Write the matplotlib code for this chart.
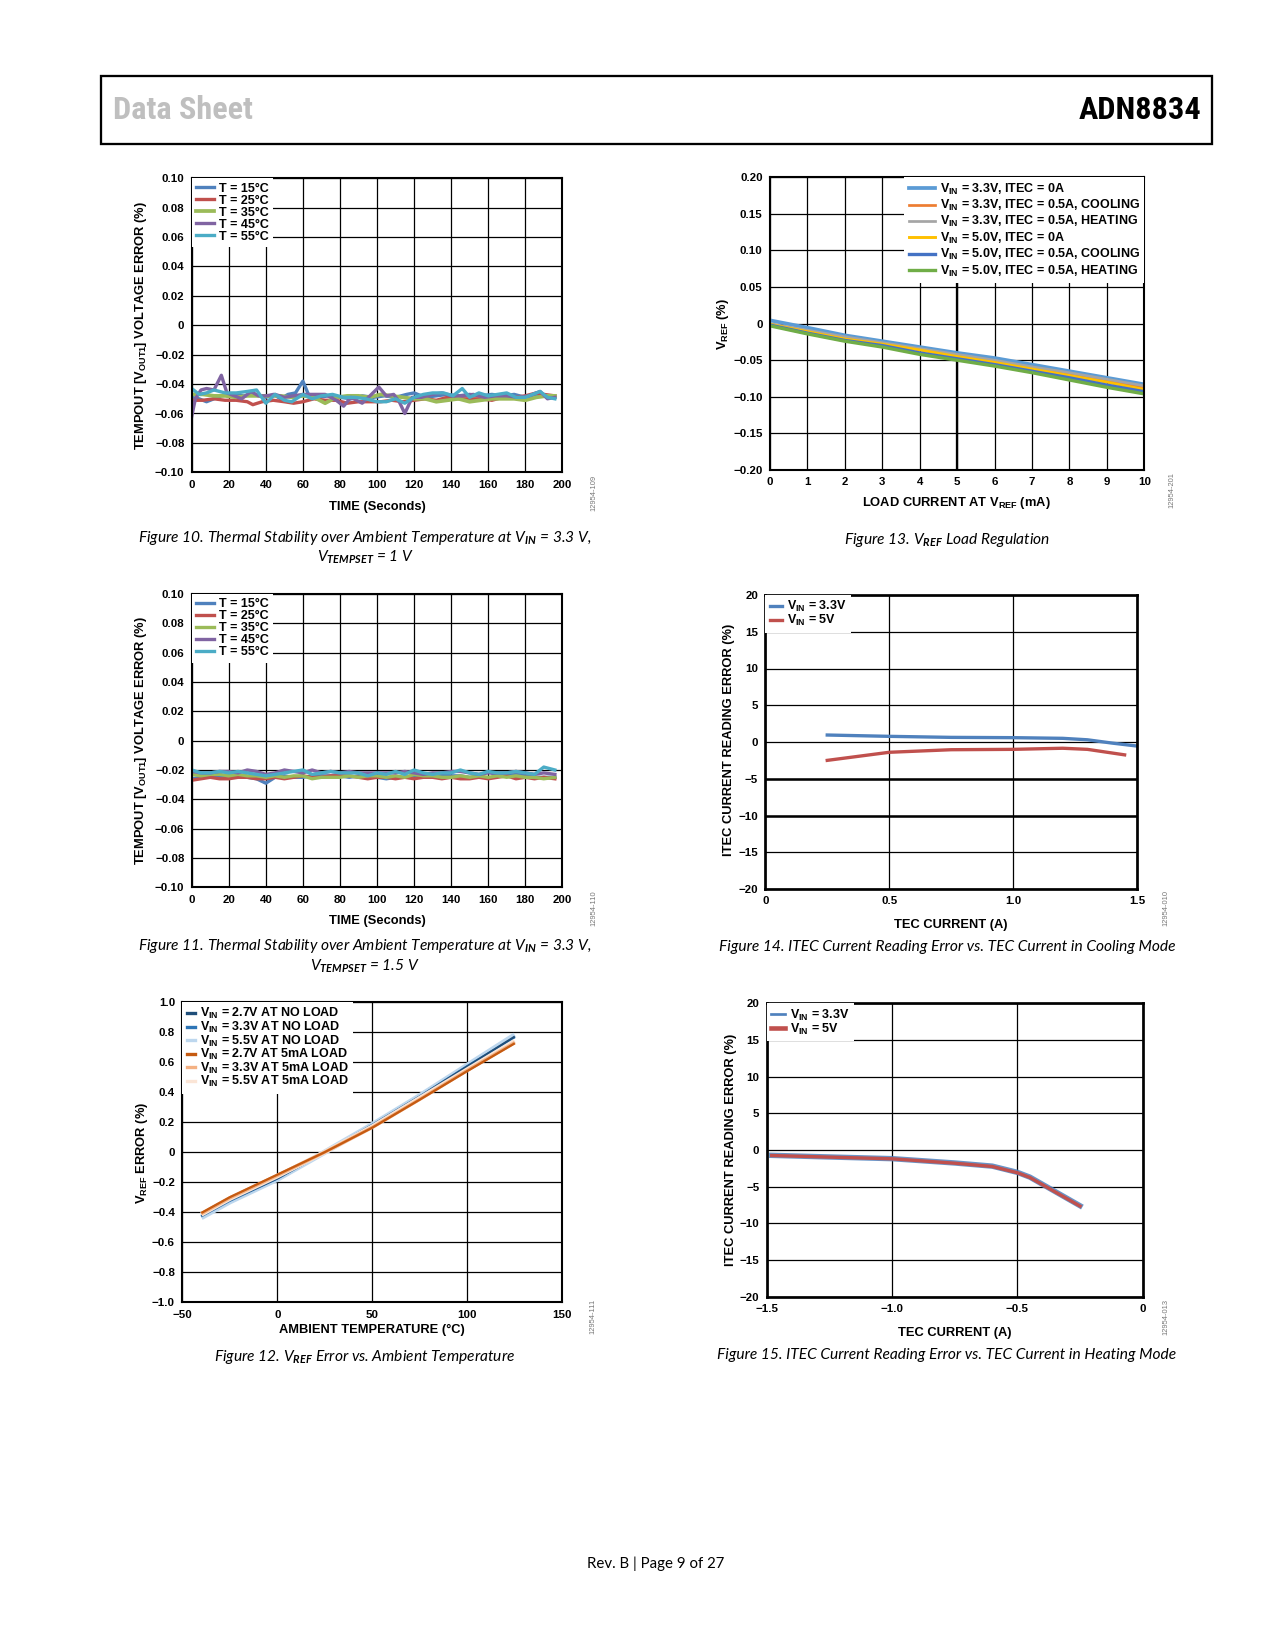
import matplotlib
matplotlib.use("Agg")
import matplotlib.pyplot as plt
from matplotlib.patches import Rectangle
from matplotlib.ticker import FixedLocator, FixedFormatter

plt.rcParams['font.family'] = ['Liberation Sans', 'DejaVu Sans']
plt.rcParams['font.weight'] = 'bold'
plt.rcParams['mathtext.fontset'] = 'custom'
plt.rcParams['mathtext.rm'] = 'Liberation Sans:bold'
plt.rcParams['mathtext.it'] = 'Lato:italic'
plt.rcParams['mathtext.default'] = 'rm'
plt.rcParams['axes.unicode_minus'] = True

# ---------------- DATA ----------------
# Figure 10 (V_TEMPSET = 1 V)
temp_labels = ["T = 15°C", "T = 25°C", "T = 35°C", "T = 45°C", "T = 55°C"]
f10_t15 = [0, 4, 8, 12, 16, 22, 28, 34, 40, 44, 48, 52, 56, 60, 63, 68, 74, 80, 86, 92, 98, 104, 110, 116, 120, 126, 132, 138, 144, 150, 156, 162, 168, 174, 180, 186, 192, 196]
f10_v15 = [-0.049, -0.050, -0.052, -0.050, -0.048, -0.047, -0.048, -0.047, -0.049, -0.047, -0.050, -0.047, -0.046, -0.038, -0.047, -0.049, -0.048, -0.049, -0.050, -0.048, -0.049, -0.048, -0.049, -0.047, -0.046, -0.049, -0.048, -0.047, -0.048, -0.047, -0.048, -0.047, -0.048, -0.047, -0.049, -0.047, -0.048, -0.049]
f10_t25 = [0, 6, 12, 18, 24, 30, 33, 38, 44, 50, 55, 60, 66, 72, 78, 84, 90, 96, 102, 108, 114, 120, 126, 132, 138, 144, 150, 156, 162, 168, 174, 180, 186, 190, 196]
f10_v25 = [-0.051, -0.051, -0.050, -0.051, -0.051, -0.052, -0.054, -0.052, -0.051, -0.052, -0.053, -0.052, -0.050, -0.051, -0.051, -0.053, -0.052, -0.052, -0.052, -0.051, -0.052, -0.051, -0.050, -0.051, -0.049, -0.050, -0.050, -0.050, -0.051, -0.049, -0.049, -0.048, -0.046, -0.047, -0.048]
f10_t35 = [0, 6, 12, 18, 24, 30, 36, 42, 48, 54, 60, 66, 72, 78, 84, 90, 96, 102, 108, 114, 120, 126, 132, 138, 144, 150, 156, 162, 168, 174, 180, 186, 192, 196]
f10_v35 = [-0.047, -0.047, -0.048, -0.048, -0.049, -0.048, -0.048, -0.048, -0.048, -0.049, -0.048, -0.049, -0.053, -0.049, -0.048, -0.048, -0.049, -0.047, -0.048, -0.049, -0.050, -0.050, -0.052, -0.051, -0.050, -0.052, -0.051, -0.050, -0.050, -0.050, -0.051, -0.049, -0.048, -0.048]
f10_t45 = [0, 2, 5, 8, 12, 16, 19, 23, 27, 32, 36, 40, 45, 50, 55, 60, 66, 72, 78, 82, 86, 92, 97, 101, 105, 109, 112, 115, 119, 124, 130, 135, 140, 146, 152, 158, 164, 170, 176, 182, 188, 192, 196]
f10_v45 = [-0.062, -0.050, -0.044, -0.043, -0.044, -0.034, -0.046, -0.048, -0.050, -0.045, -0.048, -0.048, -0.047, -0.049, -0.048, -0.047, -0.047, -0.047, -0.051, -0.055, -0.049, -0.053, -0.047, -0.042, -0.048, -0.047, -0.052, -0.060, -0.049, -0.049, -0.047, -0.046, -0.048, -0.048, -0.047, -0.049, -0.048, -0.048, -0.049, -0.048, -0.045, -0.050, -0.049]
f10_t55 = [0, 4, 8, 12, 18, 24, 30, 35, 40, 45, 50, 54, 60, 65, 70, 76, 82, 88, 94, 100, 105, 110, 115, 120, 125, 130, 136, 141, 146, 150, 155, 160, 165, 170, 175, 180, 184, 188, 192, 196]
f10_v55 = [-0.043, -0.047, -0.046, -0.044, -0.046, -0.046, -0.045, -0.044, -0.053, -0.047, -0.051, -0.052, -0.047, -0.050, -0.048, -0.047, -0.049, -0.049, -0.050, -0.052, -0.052, -0.050, -0.053, -0.049, -0.047, -0.046, -0.046, -0.048, -0.043, -0.049, -0.046, -0.048, -0.047, -0.046, -0.049, -0.049, -0.047, -0.045, -0.049, -0.050]

# Figure 11 (V_TEMPSET = 1.5 V)
f11_t = [0, 5, 10, 15, 20, 25, 30, 35, 40, 45, 50, 55, 60, 65, 70, 75, 80, 85, 90, 95, 100, 105, 110, 115, 120, 125, 130, 135, 140, 145, 150, 155, 160, 165, 170, 175, 180, 185, 190, 196]
f11_v15 = [-0.026, -0.025, -0.025, -0.025, -0.024, -0.024, -0.025, -0.026, -0.029, -0.025, -0.024, -0.025, -0.025, -0.024, -0.024, -0.024, -0.024, -0.025, -0.024, -0.023, -0.025, -0.026, -0.025, -0.025, -0.024, -0.024, -0.024, -0.023, -0.024, -0.024, -0.025, -0.024, -0.021, -0.024, -0.024, -0.023, -0.024, -0.025, -0.025, -0.025]
f11_v25 = [-0.027, -0.026, -0.025, -0.026, -0.026, -0.025, -0.025, -0.026, -0.026, -0.025, -0.026, -0.025, -0.024, -0.025, -0.025, -0.024, -0.024, -0.024, -0.025, -0.026, -0.025, -0.025, -0.026, -0.025, -0.026, -0.025, -0.025, -0.026, -0.025, -0.026, -0.026, -0.025, -0.026, -0.025, -0.024, -0.026, -0.025, -0.026, -0.025, -0.026]
f11_v35 = [-0.023, -0.024, -0.023, -0.023, -0.024, -0.023, -0.024, -0.024, -0.025, -0.024, -0.025, -0.024, -0.024, -0.026, -0.025, -0.025, -0.025, -0.024, -0.025, -0.024, -0.024, -0.025, -0.024, -0.025, -0.023, -0.024, -0.024, -0.025, -0.025, -0.024, -0.025, -0.024, -0.025, -0.024, -0.025, -0.024, -0.025, -0.025, -0.026, -0.025]
f11_v45 = [-0.021, -0.022, -0.022, -0.021, -0.021, -0.022, -0.020, -0.021, -0.023, -0.022, -0.020, -0.021, -0.022, -0.020, -0.022, -0.021, -0.022, -0.021, -0.022, -0.022, -0.022, -0.022, -0.022, -0.021, -0.022, -0.023, -0.022, -0.022, -0.021, -0.021, -0.022, -0.023, -0.022, -0.022, -0.022, -0.021, -0.022, -0.023, -0.022, -0.023]
f11_v55 = [-0.020, -0.022, -0.022, -0.021, -0.022, -0.021, -0.022, -0.023, -0.024, -0.023, -0.022, -0.021, -0.020, -0.023, -0.022, -0.021, -0.022, -0.022, -0.022, -0.024, -0.022, -0.023, -0.021, -0.023, -0.020, -0.022, -0.023, -0.022, -0.022, -0.020, -0.022, -0.023, -0.021, -0.022, -0.022, -0.021, -0.022, -0.023, -0.018, -0.020]

# Figure 12 (VREF error vs ambient temperature)
f12_temp = [-40, -25, 0, 25, 50, 75, 100, 125]
f12_labels = [r"V$_{\mathrm{IN}}$ = 2.7V AT NO LOAD", r"V$_{\mathrm{IN}}$ = 3.3V AT NO LOAD",
              r"V$_{\mathrm{IN}}$ = 5.5V AT NO LOAD", r"V$_{\mathrm{IN}}$ = 2.7V AT 5mA LOAD",
              r"V$_{\mathrm{IN}}$ = 3.3V AT 5mA LOAD", r"V$_{\mathrm{IN}}$ = 5.5V AT 5mA LOAD"]
f12_nl27 = [-0.424, -0.32, -0.175, 0.0, 0.180, 0.370, 0.571, 0.770]
f12_nl33 = [-0.428, -0.325, -0.177, 0.0, 0.182, 0.372, 0.574, 0.765]
f12_nl55 = [-0.435, -0.33, -0.180, 0.0, 0.183, 0.375, 0.578, 0.780]
f12_ld27 = [-0.405, -0.30, -0.150, 0.0, 0.163, 0.350, 0.540, 0.725]
f12_ld33 = [-0.410, -0.305, -0.155, 0.0, 0.165, 0.352, 0.545, 0.730]
f12_ld55 = [-0.415, -0.31, -0.160, 0.0, 0.170, 0.360, 0.550, 0.740]

# Figure 13 (VREF load regulation)
f13_load = [0, 1, 2, 3, 4, 5, 6, 7, 8, 9, 10]
f13_labels = [r"V$_{\mathrm{IN}}$ = 3.3V, ITEC = 0A", r"V$_{\mathrm{IN}}$ = 3.3V, ITEC = 0.5A, COOLING",
              r"V$_{\mathrm{IN}}$ = 3.3V, ITEC = 0.5A, HEATING", r"V$_{\mathrm{IN}}$ = 5.0V, ITEC = 0A",
              r"V$_{\mathrm{IN}}$ = 5.0V, ITEC = 0.5A, COOLING", r"V$_{\mathrm{IN}}$ = 5.0V, ITEC = 0.5A, HEATING"]
f13_33_0 = [0.0045, -0.0055, -0.016, -0.024, -0.032, -0.040, -0.047, -0.056, -0.065, -0.074, -0.083]
f13_33_c = [-0.001, -0.010, -0.019, -0.027, -0.035, -0.043, -0.051, -0.060, -0.069, -0.078, -0.087]
f13_33_h = [0.000, -0.009, -0.018, -0.026, -0.034, -0.042, -0.050, -0.059, -0.067, -0.076, -0.085]
f13_50_0 = [-0.001, -0.011, -0.021, -0.028, -0.036, -0.045, -0.053, -0.062, -0.071, -0.080, -0.090]
f13_50_c = [-0.002, -0.013, -0.023, -0.030, -0.040, -0.048, -0.056, -0.065, -0.074, -0.084, -0.093]
f13_50_h = [-0.003, -0.014, -0.024, -0.032, -0.042, -0.050, -0.058, -0.067, -0.077, -0.087, -0.096]

# Figure 14 (cooling mode)
vin_labels = [r"V$_{\mathrm{IN}}$ = 3.3V", r"V$_{\mathrm{IN}}$ = 5V"]
f14_i33 = [0.25, 0.5, 0.75, 1.0, 1.2, 1.3, 1.4, 1.5]
f14_e33 = [0.95, 0.77, 0.63, 0.59, 0.50, 0.30, -0.15, -0.55]
f14_i5 = [0.25, 0.5, 0.75, 1.0, 1.2, 1.3, 1.45]
f14_e5 = [-2.5, -1.4, -1.05, -1.0, -0.85, -1.0, -1.75]

# Figure 15 (heating mode)
f15_i = [-1.48, -1.25, -1.0, -0.75, -0.6, -0.5, -0.45, -0.25]
f15_e33 = [-0.73, -0.95, -1.18, -1.77, -2.2, -3.05, -3.7, -7.6]
f15_e5 = [-0.75, -0.97, -1.20, -1.80, -2.25, -3.10, -3.75, -7.65]

# Tick labels
time_ticks = [0, 20, 40, 60, 80, 100, 120, 140, 160, 180, 200]
temp_err_ticks = [0.10, 0.08, 0.06, 0.04, 0.02, 0, -0.02, -0.04, -0.06, -0.08, -0.10]
temp_err_labels = ["0.10", "0.08", "0.06", "0.04", "0.02", "0", "\u22120.02", "\u22120.04", "\u22120.06", "\u22120.08", "\u22120.10"]
f12_xticks = [-50, 0, 50, 100, 150]
f12_xlabels = ["\u221250", "0", "50", "100", "150"]
f12_yticks = [1.0, 0.8, 0.6, 0.4, 0.2, 0, -0.2, -0.4, -0.6, -0.8, -1.0]
f12_ylabels = ["1.0", "0.8", "0.6", "0.4", "0.2", "0", "\u22120.2", "\u22120.4", "\u22120.6", "\u22120.8", "\u22121.0"]
f13_yticks = [0.20, 0.15, 0.10, 0.05, 0, -0.05, -0.10, -0.15, -0.20]
f13_ylabels = ["0.20", "0.15", "0.10", "0.05", "0", "\u22120.05", "\u22120.10", "\u22120.15", "\u22120.20"]
itec_yticks = [20, 15, 10, 5, 0, -5, -10, -15, -20]
itec_ylabels = ["20", "15", "10", "5", "0", "\u22125", "\u221210", "\u221215", "\u221220"]
f14_xticks = [0, 0.5, 1.0, 1.5]
f14_xlabels = ["0", "0.5", "1.0", "1.5"]
f15_xticks = [-1.5, -1.0, -0.5, 0]
f15_xlabels = ["\u22121.5", "\u22121.0", "\u22120.5", "0"]

# ---------------- FIGURE ----------------
W, H = 1275, 1650
fig = plt.figure(figsize=(W / 150, H / 150), dpi=150)

CAP_FONT = ['Lato', 'DejaVu Sans']
TICK_FS = 5.5
LAB_FS = 6.2
LEG_FS = 6.0


def px_axes(l, t, r, b):
    return fig.add_axes([l / W, 1 - b / H, (r - l) / W, (b - t) / H])


def style(ax, xlim, ylim, xt, xl, yt, yl, xlab, ylab, xlab_pos, ylab_pos, spine_lw=1.0):
    ax.set_xlim(*xlim)
    ax.set_ylim(*ylim)
    ax.xaxis.set_major_locator(FixedLocator(xt))
    ax.xaxis.set_major_formatter(FixedFormatter(xl))
    ax.yaxis.set_major_locator(FixedLocator(yt))
    ax.yaxis.set_major_formatter(FixedFormatter(yl))
    ax.tick_params(length=0, labelsize=TICK_FS, pad=3.5)
    ax.grid(True, color='black', lw=0.6)
    ax.set_axisbelow(True)
    for s in ax.spines.values():
        s.set_linewidth(spine_lw)
        s.set_color('black')
    ax.set_xlabel(xlab, fontsize=LAB_FS, fontweight='bold')
    ax.set_ylabel(ylab, fontsize=LAB_FS, fontweight='bold')
    ax.xaxis.set_label_coords(*xlab_pos)
    ax.yaxis.set_label_coords(*ylab_pos)


def legend(ax, handles, labels, loc, anchor, hl, fs=LEG_FS, ls=0.1, pad=0.35):
    lg = ax.legend(handles, labels, loc=loc, bbox_to_anchor=anchor, borderaxespad=0,
                   handlelength=hl, handletextpad=0.4, labelspacing=ls,
                   frameon=True, fancybox=False, framealpha=1, borderpad=pad,
                   prop={'weight': 'bold', 'size': fs})
    lg.get_frame().set_edgecolor('none')
    lg.get_frame().set_facecolor('white')
    lg.set_zorder(10)
    return lg


def code(x, y, s):
    fig.text(x / W, 1 - y / H, s, rotation=90, fontsize=3.6, color='#777777',
             fontweight='normal', ha='center', va='center')


def caption(x, y, s):
    fig.text(x / W, 1 - y / H, s, fontsize=7.45, family=CAP_FONT, style='italic',
             fontweight='normal', ha='center', va='center')


C07 = ['#4F81BD', '#C0504D', '#9BBB59', '#8064A2', '#4BACC6']

# ---- Figure 10 ----
ax = px_axes(191.7, 178.3, 562.3, 472.3)
hs = []
for t, v, c, lw in [(f10_t15, f10_v15, C07[0], 1.6), (f10_t25, f10_v25, C07[1], 1.6),
                    (f10_t35, f10_v35, C07[2], 1.8), (f10_t45, f10_v45, C07[3], 1.6),
                    (f10_t55, f10_v55, C07[4], 1.6)]:
    hs.append(ax.plot(t, v, color=c, lw=lw, solid_joinstyle='round')[0])
style(ax, (0, 200), (-0.10, 0.10), time_ticks, [str(x) for x in time_ticks],
      temp_err_ticks, temp_err_labels, "TIME (Seconds)",
      r"TEMPOUT [V$_{\mathrm{OUT1}}$] VOLTAGE ERROR (%)", (0.5, -0.096), (-0.116, 0.5))
legend(ax, hs, temp_labels, 'upper left', (0.0, 1.0), 1.45, ls=0.0)
code(594, 493, "12954-109")

# ---- Figure 11 ----
ax = px_axes(191.7, 594, 562.3, 887.3)
hs = []
for v, c in zip([f11_v15, f11_v25, f11_v35, f11_v45, f11_v55], C07):
    hs.append(ax.plot(f11_t, v, color=c, lw=1.6, solid_joinstyle='round')[0])
style(ax, (0, 200), (-0.10, 0.10), time_ticks, [str(x) for x in time_ticks],
      temp_err_ticks, temp_err_labels, "TIME (Seconds)",
      r"TEMPOUT [V$_{\mathrm{OUT1}}$] VOLTAGE ERROR (%)", (0.5, -0.096), (-0.116, 0.5))
legend(ax, hs, temp_labels, 'upper left', (0.0, 1.0), 1.45, ls=0.0)
code(594, 908, "12954-110")

# ---- Figure 12 ----
ax = px_axes(182.3, 1002, 562.3, 1302.3)
f12_cols = ['#1F4E79', '#2E75B6', '#BDD7EE', '#C55A11', '#F4B183', '#FBE5D6']
f12_lws = [1.0, 1.0, 2.6, 1.1, 1.6, 2.2]
for v, c, lw in zip([f12_nl55, f12_nl33, f12_nl27, f12_ld55, f12_ld33, f12_ld27],
                    [f12_cols[2], f12_cols[1], f12_cols[0], f12_cols[5], f12_cols[4], f12_cols[3]],
                    [f12_lws[2], f12_lws[1], f12_lws[0], f12_lws[5], f12_lws[4], f12_lws[3]]):
    ax.plot(f12_temp, v, color=c, lw=lw, solid_capstyle='butt')
hs = [plt.Line2D([], [], color=c, lw=1.6) for c in f12_cols]
style(ax, (-50, 150), (-1.0, 1.0), f12_xticks, f12_xlabels, f12_yticks, f12_ylabels,
      "AMBIENT TEMPERATURE (°C)", r"V$_{\mathrm{REF}}$ ERROR (%)", (0.498, -0.071), (-0.085, 0.497))
legend(ax, hs, f12_labels, 'upper left', (0.0, 1.0), 0.65, ls=-0.12)
code(592.7, 1316.7, "12954-111")

# ---- Figure 13 ----
ax = px_axes(770, 177.3, 1144.3, 470)
f13_cols = ['#5B9BD5', '#ED7D31', '#A5A5A5', '#FFC000', '#4472C4', '#70AD47']
f13_lws = [1.8, 1.3, 1.3, 1.4, 1.6, 1.6]
hs = []
for v, c, lw in zip([f13_33_0, f13_33_c, f13_33_h, f13_50_0, f13_50_c, f13_50_h], f13_cols, f13_lws):
    hs.append(ax.plot(f13_load, v, color=c, lw=lw)[0])
style(ax, (0, 10), (-0.20, 0.20), f13_load, [str(x) for x in f13_load], f13_yticks, f13_ylabels,
      r"LOAD CURRENT AT V$_{\mathrm{REF}}$ (mA)", r"V$_{\mathrm{REF}}$ (%)", (0.499, -0.085), (-0.104, 0.5))
ax.axvline(5, color='black', lw=1.1, zorder=0.5)
legend(ax, hs, f13_labels, 'upper right', (1.0, 1.0), 2.1, ls=0.1)
code(1171.7, 490, "12954-201")

# ---- Figure 14 ----
ax = px_axes(765.3, 595, 1137, 889)
h1 = ax.plot(f14_i33, f14_e33, color=C07[0], lw=1.6)[0]
h2 = ax.plot(f14_i5, f14_e5, color=C07[1], lw=1.6)[0]
style(ax, (0, 1.5), (-20, 20), f14_xticks, f14_xlabels, itec_yticks, itec_ylabels,
      "TEC CURRENT (A)", "ITEC CURRENT READING ERROR (%)", (0.50, -0.102), (-0.082, 0.507), spine_lw=1.3)
ax.axhline(-5, color='black', lw=1.2, zorder=0.5)
ax.axhline(-10, color='black', lw=1.2, zorder=0.5)
legend(ax, [h1, h2], vin_labels, 'upper left', (0.0, 1.0), 1.0, ls=-0.1)
code(1166, 908, "12954-010")

# ---- Figure 15 ----
ax = px_axes(766.7, 1003.3, 1142.7, 1296.7)
ax.plot(f15_i, f15_e33, color=C07[0], lw=2.6, alpha=0.85)
ax.plot(f15_i, f15_e5, color=C07[1], lw=1.6)
style(ax, (-1.5, 0), (-20, 20), f15_xticks, f15_xlabels, itec_yticks, itec_ylabels,
      "TEC CURRENT (A)", "ITEC CURRENT READING ERROR (%)", (0.50, -0.102), (-0.080, 0.5), spine_lw=1.3)
legend(ax, [plt.Line2D([], [], color=C07[0], lw=1.3), plt.Line2D([], [], color=C07[1], lw=2.2)],
       vin_labels, 'upper left', (0.0, 1.0), 1.15, ls=-0.1)
code(1166, 1316.7, "12954-013")

# ---- Captions ----
caption(365, 537.6, r"Figure 10. Thermal Stability over Ambient Temperature at V$_{\mathit{IN}}$ = 3.3 V,")
caption(365, 557.6, r"V$_{\mathit{TEMPSET}}$ = 1 V")
caption(947, 540, r"Figure 13. V$_{\mathit{REF}}$ Load Regulation")
caption(365, 946, r"Figure 11. Thermal Stability over Ambient Temperature at V$_{\mathit{IN}}$ = 3.3 V,")
caption(365, 966, r"V$_{\mathit{TEMPSET}}$ = 1.5 V")
caption(947, 947, "Figure 14. ITEC Current Reading Error vs. TEC Current in Cooling Mode")
caption(365, 1357, r"Figure 12. V$_{\mathit{REF}}$ Error vs. Ambient Temperature")
caption(947, 1355, "Figure 15. ITEC Current Reading Error vs. TEC Current in Heating Mode")

# ---- Header / footer ----
fig.add_artist(Rectangle((101 / W, 1 - 144 / H), (1212 - 101) / W, (144 - 75.7) / H,
                         transform=fig.transFigure, fill=False, edgecolor='black', lw=1.1))
HEAD_FONT = ['Liberation Sans Narrow', 'Roboto Condensed', 'DejaVu Sans']
fig.text(113 / W, 1 - 110 / H, "Data Sheet", fontsize=15.5, family=HEAD_FONT, fontweight='bold',
         fontstretch='condensed', color='#BFBFBF', ha='left', va='center')
fig.text(1201 / W, 1 - 110 / H, "ADN8834", fontsize=15.5, family=HEAD_FONT, fontweight='bold',
         fontstretch='condensed', color='black', ha='right', va='center')
fig.text(656 / W, 1 - 1564 / H, "Rev. B | Page 9 of 27", fontsize=7.2, family=CAP_FONT,
         fontweight='normal', ha='center', va='center')

fig.savefig("out.png", dpi=150, facecolor='white')
